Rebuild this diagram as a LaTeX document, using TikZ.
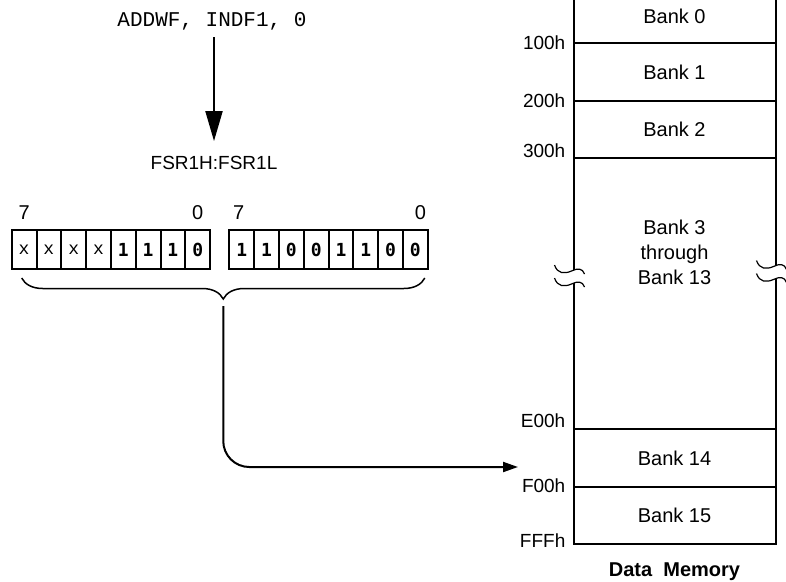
\documentclass[tikz,border=0pt]{standalone}
\usepackage{fontspec}
\setmainfont{Liberation Sans}
\setmonofont{Liberation Mono}
\newfontfamily\bitfont{DejaVu Sans Mono}
\usetikzlibrary{arrows.meta, positioning, calc, decorations.pathreplacing}

\tikzset{
    brk/.pic={
        \fill[white] (-19,-11) .. controls (-16,-2) and (-9,-2) .. (-2,-5) .. controls (4,-8) and (9,-8) .. (11,-2)
            -- (11,11) .. controls (9,5) and (4,5) .. (-2,8) .. controls (-9,11) and (-16,11) .. (-19,2) -- cycle;
        \draw[line width=1.2pt] (-19,-11) .. controls (-16,-2) and (-9,-2) .. (-2,-5) .. controls (4,-8) and (9,-8) .. (11,-2);
        \draw[line width=1.2pt] (-19,2) .. controls (-16,11) and (-9,11) .. (-2,8) .. controls (4,5) and (9,5) .. (11,11);
    }
}

\begin{document}
\begin{tikzpicture}[
    x=1pt, y=-1pt,
    font=\fontsize{19}{23}\selectfont,
    bank/.style={draw, line width=2pt, minimum width=202pt, inner sep=0pt, outer sep=0pt, font=\fontsize{20}{24}\selectfont},
    addr/.style={anchor=east, inner sep=0pt},
    cell/.style={draw, line width=2pt, minimum width=24.8pt, minimum height=39pt, inner sep=0pt, outer sep=0pt},
    xbit/.style={cell, font=\ttfamily\fontsize{18}{18}\selectfont},
    bbit/.style={cell, font=\bitfont\bfseries\fontsize{18}{18}\selectfont},
    bitnum/.style={inner sep=0pt, font=\fontsize{20}{24}\selectfont},
    arrow/.style={-{Triangle[length=15pt, width=10pt]}, line width=2pt},
    bigarrow/.style={-{Triangle[length=30pt, width=17pt]}, line width=2pt},
]
\useasboundingbox (0,0) rectangle (786,581);
\clip (0,0) rectangle (786,581);

% Data memory
\node[bank, minimum height=53pt] (b0) at (674.5,16.5) {Bank 0};
\node[bank, minimum height=58pt, below=0pt of b0] (b1) {Bank 1};
\node[bank, minimum height=57pt, below=0pt of b1] (b2) {Bank 2};
\node[bank, minimum height=271pt, below=0pt of b2] (bm) {};
\node[bank, minimum height=58pt, below=0pt of bm] (b14) {Bank 14};
\node[bank, minimum height=57pt, below=0pt of b14] (b15) {Bank 15};
\node[align=center, font=\fontsize{20}{25}\selectfont] (b3) at ([yshift=41.5pt]bm.center) {Bank 3\\through\\Bank 13};
\node[anchor=base, inner sep=0pt, font=\bfseries\fontsize{20}{24}\selectfont] (dm) at ([yshift=-32.5pt]b15.south) {Data~~Memory};

\pic at ([yshift=17.5pt]bm.west) {brk};
\pic at ([yshift=22pt]bm.east) {brk};

% Addresses
\node[addr] (a1) at ([xshift=-8pt]b1.north west) {100h};
\node[addr] (a2) at ([xshift=-8pt]b2.north west) {200h};
\node[addr] (a3) at ([xshift=-8pt,yshift=7pt]bm.north west) {300h};
\node[addr] (a14) at ([xshift=-8pt,yshift=8.5pt]b14.north west) {E00h};
\node[addr] (a15) at ([xshift=-8pt,yshift=1.5pt]b15.north west) {F00h};
\node[addr] (aend) at ([xshift=-8pt,yshift=3pt]b15.south west) {FFFh};

% Instruction and FSR1
\node[inner sep=0pt, font=\ttfamily\fontsize{21}{24}\selectfont] (instr) at (212,21) {ADDWF, INDF1, 0};
\node[inner sep=0pt] (fsr) at (214,163) {FSR1H:FSR1L};
\draw[bigarrow, shorten <=7pt, shorten >=15pt] (instr.south -| fsr.north) -- (fsr.north);

% Registers
\foreach \v [count=\i] in {x,x,x,x}
    \node[xbit] (h\i) at ({24.8*\i-0.7},249.5) {\v};
\foreach \v [count=\i from 5] in {1,1,1,0}
    \node[bbit] (h\i) at ({24.8*\i-0.7},249.5) {\v};
\foreach \v [count=\i] in {1,1,0,0,1,1,0,0}
    \node[bbit] (l\i) at ({24.8*\i+217},249.5) {\v};

\node[bitnum] (h7n) at ([yshift=17pt]h1.north) {7};
\node[bitnum] (h0n) at ([yshift=17pt]h8.north) {0};
\node[bitnum] (l7n) at ([xshift=-3pt,yshift=17pt]l1.north) {7};
\node[bitnum] (l0n) at ([xshift=5pt,yshift=17pt]l8.north) {0};

% Brace and pointer
\coordinate (brL) at ([xshift=10pt,yshift=-9pt]h1.south west);
\coordinate (brR) at ([xshift=-3pt,yshift=-9pt]l8.south east);
\coordinate (brT) at ($(brL)!0.5!(brR)+(0,21)$);
\coordinate (dest) at (518,467);
\draw[line width=1.5pt, decorate, decoration={brace, mirror, amplitude=21pt}] (brL) -- (brR);
\draw[arrow, rounded corners=26pt, shorten <=7pt] (brT) |- (dest);

\end{tikzpicture}
\end{document}
